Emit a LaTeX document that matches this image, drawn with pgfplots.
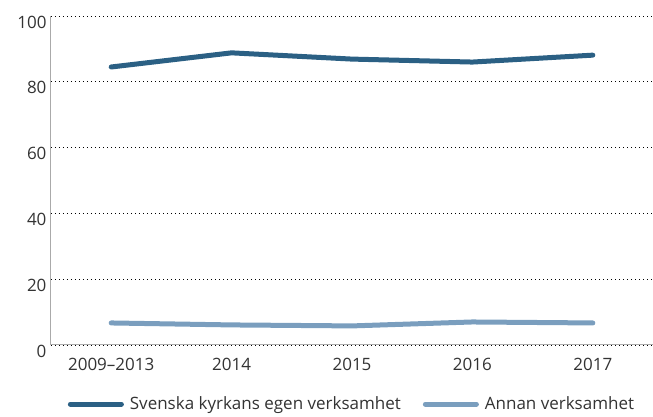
\documentclass[border=0pt]{standalone}
\usepackage{fontspec}
\setmainfont{Open Sans}
\usepackage{pgfplots}
\pgfplotsset{compat=1.18}
\definecolor{darkb}{RGB}{43,96,132}
\definecolor{lightb}{RGB}{122,158,190}
\definecolor{axgray}{RGB}{170,170,170}
\begin{document}
\begin{tikzpicture}
\begin{axis}[
  name=ax,
  scale only axis,
  width=602pt, height=329pt,
  xmin=-0.5, xmax=4.5,
  ymin=0, ymax=100,
  ytick={0,20,40,60,80,100},
  xtick={0,1,2,3,4},
  xticklabels={2009–2013,2014,2015,2016,2017},
  axis x line*=bottom,
  axis y line*=left,
  axis line style={axgray, line width=1pt, -},
  major tick length=0pt,
  ymajorgrids,
  grid style={black, line width=0.8pt, dash pattern=on 0.8pt off 3.2pt},
  tick label style={font=\fontsize{17}{20}\selectfont, color=black!80},
  yticklabel style={yshift=-6pt, xshift=-1pt},
  xticklabel style={yshift=-10pt},
  /pgf/number format/assume math mode=true,
  legend style={draw=none, font=\fontsize{17}{20}\selectfont, text=black!80, at={(0.5,-0.145)}, anchor=north, legend columns=2,
    /tikz/every odd column/.append style={column sep=4pt},
    /tikz/every even column/.append style={column sep=20pt}},
  legend image code/.code={\draw[#1, line width=5pt, line cap=round] (2.5pt,0pt) -- (53.5pt,0pt);},
  clip=false,
]
\addplot[darkb, line width=5pt, line cap=round] coordinates {(0,84.5) (1,88.8) (2,86.9) (3,86.0) (4,88.1)};
\addlegendentry{Svenska kyrkans egen verksamhet}
\addplot[lightb, line width=5pt, line cap=round] coordinates {(0,6.7) (1,6.1) (2,5.8) (3,7.0) (4,6.7)};
\addlegendentry{Annan verksamhet}
\end{axis}
\pgfresetboundingbox
\path ([xshift=-51pt,yshift=-72pt]ax.south west) rectangle ([yshift=16pt]ax.north east);
\end{tikzpicture}
\end{document}
